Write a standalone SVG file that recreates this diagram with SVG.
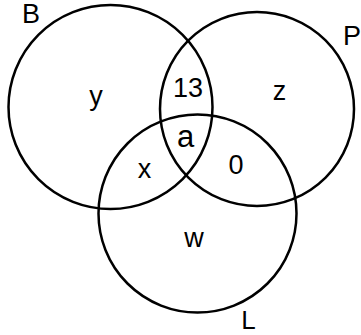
<svg xmlns="http://www.w3.org/2000/svg" width="361" height="335" viewBox="0 0 361 335">
<style>
.c{fill:none;stroke:#000;stroke-width:2.5}
.t{font-family:"Liberation Sans",Arial,sans-serif;font-size:27px;fill:#000;text-anchor:middle}
</style>
<rect width="361" height="335" fill="#fff"/>
<g id="setB"><circle class="c" cx="110.5" cy="107" r="102"/><text class="t" x="31" y="23">B</text></g>
<g id="setP"><circle class="c" cx="257" cy="109" r="97"/><text class="t" x="352" y="45">P</text></g>
<g id="setL"><circle class="c" cx="197.5" cy="213.5" r="99"/><text class="t" x="248.5" y="329" style="font-size:26px">L</text></g>
<g id="regions">
<text class="t" x="96" y="105">y</text>
<text class="t" x="188" y="97">13</text>
<text class="t" x="279.5" y="100">z</text>
<text class="t" x="185.5" y="147" style="font-size:31px">a</text>
<text class="t" x="144.5" y="178">x</text>
<text class="t" x="236" y="174">0</text>
<text class="t" x="194" y="247">w</text>
</g>
</svg>
